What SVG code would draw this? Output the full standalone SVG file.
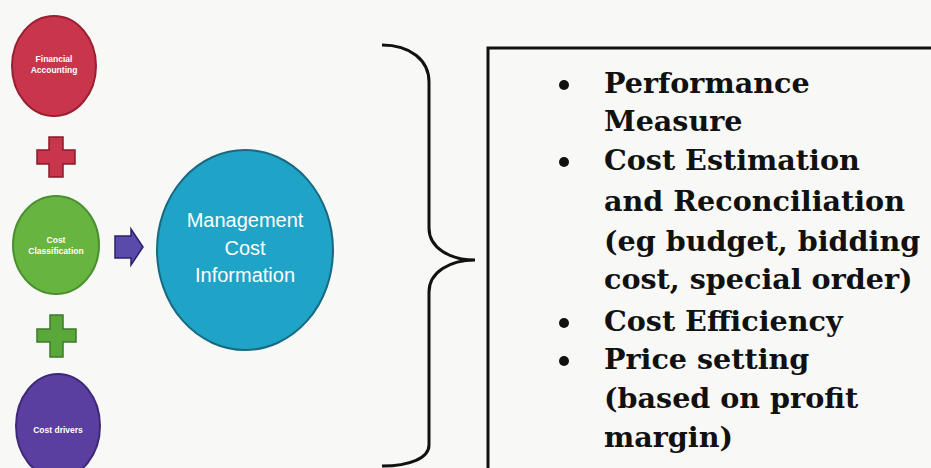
<svg xmlns="http://www.w3.org/2000/svg" width="931" height="468" viewBox="0 0 931 468">
<style>
.small{font-family:"Liberation Sans",Arial,sans-serif;font-size:8.5px;font-weight:bold;fill:#fff;text-anchor:middle}
.big{font-family:"Liberation Sans",Arial,sans-serif;font-size:20px;fill:#fff;text-anchor:middle}
.list{font-family:"DejaVu Serif","Liberation Serif",serif;font-size:28.6px;font-weight:bold;fill:#111}
.line{fill:none;stroke:#111;stroke-width:3}
</style>
<rect width="931" height="468" fill="#f8f8f7"/>
<g id="financial-accounting">
<ellipse cx="54" cy="66" rx="42" ry="50" fill="#c9354b" stroke="#9a1f30" stroke-width="2"/>
<text class="small" x="54" y="62">Financial</text>
<text class="small" x="54" y="73">Accounting</text>
</g>
<g id="plus-red">
<path d="M49 137 H63 V150 H75 V164 H63 V177 H49 V164 H37 V150 H49 Z" fill="#c9354b" stroke="#8a1a2a" stroke-width="1.5"/>
</g>
<g id="cost-classification">
<ellipse cx="56" cy="245" rx="43" ry="49" fill="#67b441" stroke="#4a9030" stroke-width="2"/>
<text class="small" x="56" y="243">Cost</text>
<text class="small" x="56" y="254">Classification</text>
</g>
<g id="plus-green">
<path d="M50 315 H63 V329 H76 V342 H63 V357 H50 V342 H37 V329 H50 Z" fill="#5aa83a" stroke="#3d7a28" stroke-width="1.5"/>
</g>
<g id="cost-drivers">
<ellipse cx="58" cy="426" rx="42" ry="52" fill="#5b3fa0" stroke="#3e2878" stroke-width="2"/>
<text class="small" x="58" y="433">Cost drivers</text>
</g>
<g id="connectors">
<path d="M115 236 H131 V229 L143 247 L131 265 V258 H115 Z" fill="#5a4aaa" stroke="#2a206e" stroke-width="1.5"/>
<path class="line" d="M382 45 C410 45 429 60 429 82 L429 228 C429 248 450 260 475 260 C450 260 429 272 429 292 L429 445 C429 458 410 466 382 466"/>
</g>
<g id="management-cost-information">
<ellipse cx="245" cy="250" rx="88" ry="100" fill="#1fa3c6" stroke="#176a82" stroke-width="2"/>
<text class="big" x="245" y="227">Management</text>
<text class="big" x="245" y="255">Cost</text>
<text class="big" x="245" y="282">Information</text>
</g>
<g id="uses-box">
<path class="line" d="M488 470 V48 H935"/>
<circle cx="564" cy="85" r="5" fill="#111"/>
<circle cx="564" cy="162" r="5" fill="#111"/>
<circle cx="564" cy="323" r="5" fill="#111"/>
<circle cx="564" cy="361" r="5" fill="#111"/>
<text class="list" x="604" y="93">Performance</text>
<text class="list" x="604" y="131">Measure</text>
<text class="list" x="604" y="170">Cost Estimation</text>
<text class="list" x="604" y="211">and Reconciliation</text>
<text class="list" x="604" y="251">(eg budget, bidding</text>
<text class="list" x="604" y="289">cost, special order)</text>
<text class="list" x="604" y="331">Cost Efficiency</text>
<text class="list" x="604" y="369">Price setting</text>
<text class="list" x="604" y="408">(based on profit</text>
<text class="list" x="604" y="447">margin)</text>
</g>
</svg>
